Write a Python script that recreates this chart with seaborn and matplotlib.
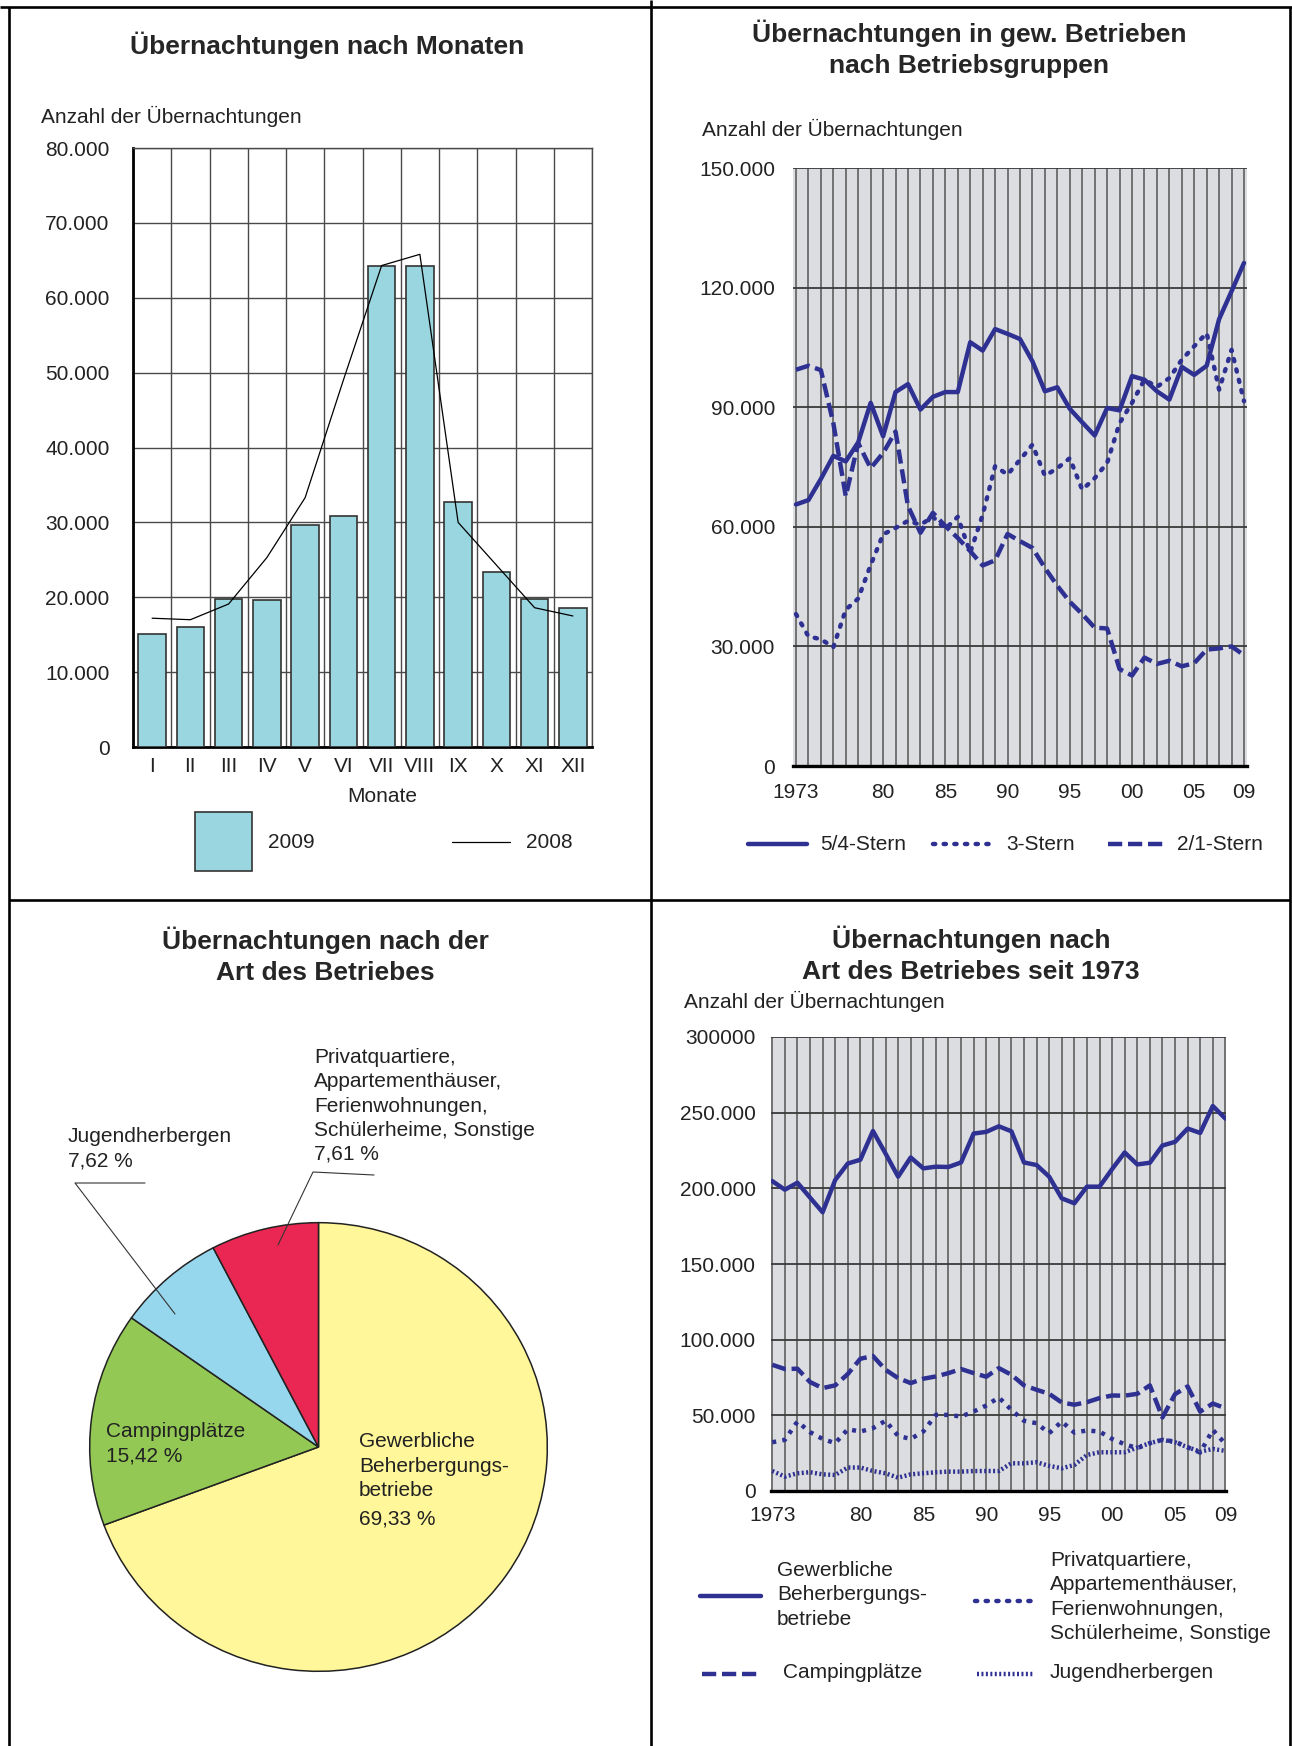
import numpy as np
import pandas as pd
import matplotlib
matplotlib.use("Agg")
import matplotlib.pyplot as plt
from matplotlib.patches import Rectangle
import seaborn as sns

# --- data ---
months = ["I", "II", "III", "IV", "V", "VI", "VII", "VIII", "IX", "X", "XI", "XII"]
nights_2009 = [15100, 16000, 19800, 19600, 29700, 30900, 64200, 64200, 32700, 23400, 19800, 18500]
nights_2008 = [17200, 17000, 19100, 25300, 33300, 49000, 64300, 65800, 30000, 24300, 18600, 17500]
month_yticks = [0, 10000, 20000, 30000, 40000, 50000, 60000, 70000, 80000]
month_ylabels = ["0", "10.000", "20.000", "30.000", "40.000", "50.000", "60.000", "70.000", "80.000"]

years = list(range(1973, 2010))
stern_54 = [65600, 66700, 72000, 77800, 76400, 81200, 91100, 82700, 93800, 95800, 89400, 92600,
            93800, 93800, 106300, 104200, 109600, 108400, 107100, 101500, 94000, 95000, 89600,
            86200, 82900, 89800, 89200, 97800, 96900, 94000, 91900, 100100, 98100, 100400,
            112100, 119100, 126200]
stern_3 = [38100, 32500, 31800, 29800, 39200, 42000, 50400, 58100, 59700, 61500, 60500, 62500,
           59500, 62500, 53500, 63000, 75200, 73100, 76800, 80600, 72800, 74700, 77200, 69300,
           72200, 76000, 86000, 91100, 96900, 95100, 97300, 101900, 105300, 108600, 94400,
           104400, 91500]
stern_21 = [99400, 100400, 99300, 86000, 67700, 81000, 74700, 78500, 83900, 65200, 58500, 63500,
            60200, 57200, 53900, 50300, 51600, 58200, 56400, 54700, 49700, 45200, 41200, 38100,
            34700, 34500, 24300, 22700, 27200, 25600, 26400, 25000, 25800, 29200, 29500, 30000,
            27800]
stern_yticks = [0, 30000, 60000, 90000, 120000, 150000]
stern_ylabels = ["0", "30.000", "60.000", "90.000", "120.000", "150.000"]

year_ticks = [1973, 1980, 1985, 1990, 1995, 2000, 2005, 2009]
year_labels = ["1973", "80", "85", "90", "95", "00", "05", "09"]

gewerblich = [204800, 199100, 203700, 193900, 184200, 205500, 216400, 218900, 237900, 223000,
              207700, 220400, 213200, 214300, 214100, 217100, 236200, 237300, 241000, 237700,
              217100, 215400, 207700, 193400, 190100, 201100, 201100, 212700, 223700, 215800,
              216900, 228300, 230700, 239500, 236600, 254400, 246100]
camping = [83400, 80600, 80800, 72000, 68000, 69800, 77300, 87400, 89200, 80100, 74600, 71300,
           74200, 75700, 77900, 80600, 77900, 75500, 81200, 76800, 69800, 66900, 64200, 58500,
           57000, 58700, 61400, 63100, 63000, 64200, 69800, 48600, 64000, 69100, 52500, 57800,
           54700]
privat = [32200, 33800, 45900, 38900, 34400, 31600, 40800, 39300, 41500, 46400, 36400, 34400,
          39300, 50300, 50300, 49200, 52500, 56500, 61800, 53600, 46400, 44800, 38200, 45900,
          38600, 40000, 39300, 34400, 30900, 28300, 31600, 33800, 32700, 28900, 25400, 40400,
          31100]
jugend = [13200, 9500, 11700, 12400, 11000, 10600, 15500, 15500, 13200, 11700, 8800, 11000,
          11700, 12400, 12800, 12800, 13200, 13200, 13200, 18300, 18300, 19000, 16600, 15000,
          17200, 23800, 25600, 25600, 25600, 28700, 31600, 33800, 32200, 28900, 26000, 27800,
          26500]
art_yticks = [0, 50000, 100000, 150000, 200000, 250000, 300000]
art_ylabels = ["0", "50.000", "100.000", "150.000", "200.000", "250.000", "300000"]

pie_names = ["Gewerbliche Beherbergungsbetriebe", "Campingplätze", "Jugendherbergen",
             "Privatquartiere, Appartementhäuser, Ferienwohnungen, Schülerheime, Sonstige"]
pie_shares = [69.33, 15.42, 7.62, 7.61]
pie_colors = ["#FFF799", "#93C855", "#97D7EE", "#EA2752"]

# --- style ---
W, H = 1292, 1746
sns.set_style("white")
plt.rcParams["font.family"] = ["Liberation Sans", "DejaVu Sans"]
plt.rcParams["font.size"] = 15
NAVY = "#2E3192"
BG = "#DCDDE0"
BAR = "#99D6E0"
TXT = "#222222"
FS = 15
TFS = 19
LW = 3.2

DOT = (0, (0.5, 1.9))
DASH = (0, (3.2, 1.3))
PDOT = (0, (0.9, 1.4))
JDOT = (0, (0.45, 0.55))


def pct(v):
    return f"{v:.2f} %".replace(".", ",")


fig = plt.figure(figsize=(W / 100, H / 100), dpi=100)


def box(x0, y0, x1, y1):
    return fig.add_axes([x0 / W, 1 - y1 / H, (x1 - x0) / W, (y1 - y0) / H])


# ---------- top left: bars per month ----------
ax1 = box(133, 148, 592, 747)
df_m = pd.DataFrame({"Monat": months, "2009": nights_2009})
sns.barplot(data=df_m, x="Monat", y="2009", color=BAR, saturation=1, width=0.72,
            edgecolor="#333333", linewidth=1.2, ax=ax1, zorder=3)
sns.lineplot(x=np.arange(len(months)), y=nights_2008, color="black", linewidth=0.9,
             sort=False, ax=ax1, zorder=4)
ax1.set_xlim(-0.5, 11.5)
ax1.set_ylim(0, 80000)
ax1.set_yticks(month_yticks)
ax1.set_yticklabels(month_ylabels)
ax1.set_xticks(np.arange(-0.5, 12), minor=True)
ax1.set_axisbelow(True)
ax1.xaxis.grid(True, which="minor", color="#4a4a4a", lw=1.0)
ax1.yaxis.grid(True, which="major", color="#4a4a4a", lw=1.0)
ax1.tick_params(axis="both", which="both", length=0, labelsize=FS, labelcolor=TXT)
ax1.tick_params(axis="y", pad=17)
ax1.tick_params(axis="x", pad=7)
ax1.set_xlabel("")
ax1.set_ylabel("")
for s in ["left", "bottom"]:
    ax1.spines[s].set_color("black")
    ax1.spines[s].set_linewidth(2)
for s in ["top", "right"]:
    ax1.spines[s].set_color("#4a4a4a")
    ax1.spines[s].set_linewidth(1.0)


def year_axes(ax, yticks, ylabels, ymax, xlo, xhi, ypad, xpad):
    ax.set_facecolor(BG)
    ax.set_xlim(xlo, xhi)
    ax.set_ylim(0, ymax)
    ax.set_yticks(yticks)
    ax.set_yticklabels(ylabels)
    ax.set_xticks(year_ticks)
    ax.set_xticklabels(year_labels)
    ax.set_xticks(years, minor=True)
    ax.set_axisbelow(True)
    ax.xaxis.grid(True, which="both", color="#555555", lw=1.1)
    ax.yaxis.grid(True, which="major", color="#3a3a3a", lw=1.3)
    ax.tick_params(axis="x", which="both", length=0, labelsize=FS, pad=xpad, labelcolor=TXT)
    ax.tick_params(axis="y", which="major", length=5, width=1.3, color="#3a3a3a",
                   direction="out", labelsize=FS, pad=ypad, labelcolor=TXT)
    ax.set_xlabel("")
    ax.set_ylabel("")
    for s in ["left", "top", "right"]:
        ax.spines[s].set_visible(False)
    ax.spines["bottom"].set_color("black")
    ax.spines["bottom"].set_linewidth(2.4)


# ---------- top right: by star category ----------
ax2 = box(793, 168, 1247, 766)
df_s = pd.DataFrame({"Jahr": years, "5/4-Stern": stern_54, "3-Stern": stern_3,
                     "2/1-Stern": stern_21})
sns.lineplot(data=df_s, x="Jahr", y="5/4-Stern", color=NAVY, lw=LW, ax=ax2)
sns.lineplot(data=df_s, x="Jahr", y="3-Stern", color=NAVY, lw=LW, ls=DOT,
             dash_capstyle="round", ax=ax2)
sns.lineplot(data=df_s, x="Jahr", y="2/1-Stern", color=NAVY, lw=LW, ls=DASH, ax=ax2)
year_axes(ax2, stern_yticks, stern_ylabels, 150000, 1972.76, 2009.24, 8, 12)

# ---------- bottom left: pie ----------
ax3 = box(89, 1222, 548, 1672)
ax3.pie(pie_shares, colors=pie_colors, startangle=90, counterclock=False,
        wedgeprops=dict(edgecolor="#222222", linewidth=1.1))
ax3.set_aspect("auto")
ax3.set_xlim(-1.003, 1.003)
ax3.set_ylim(-1.003, 1.003)

# ---------- bottom right: by type since 1973 ----------
ax4 = box(771, 1037, 1226, 1491)
df_a = pd.DataFrame({"Jahr": years, "Gewerbliche": gewerblich, "Camping": camping,
                     "Privat": privat, "Jugend": jugend})
sns.lineplot(data=df_a, x="Jahr", y="Gewerbliche", color=NAVY, lw=LW, ax=ax4)
sns.lineplot(data=df_a, x="Jahr", y="Camping", color=NAVY, lw=LW, ls=DASH, ax=ax4)
sns.lineplot(data=df_a, x="Jahr", y="Privat", color=NAVY, lw=LW, ls=PDOT, ax=ax4)
sns.lineplot(data=df_a, x="Jahr", y="Jugend", color=NAVY, lw=LW, ls=JDOT, ax=ax4)
year_axes(ax4, art_yticks, art_ylabels, 300000, 1972.9, 2009.05, 6, 11)

# ---------- overlay: frame, titles, labels, legends ----------
ov = fig.add_axes([0, 0, 1, 1], zorder=10)
ov.set_xlim(0, W)
ov.set_ylim(H, 0)
ov.axis("off")
for xs, ys in [([9, 9], [7, H]), ([1290, 1290], [7, H]), ([0, W], [7, 7]),
               ([651, 651], [0, H]), ([9, 1290], [900, 900])]:
    ov.plot(xs, ys, color="black", lw=1.9, solid_capstyle="butt")

# top left
ov.text(327, 45, "Übernachtungen nach Monaten", fontsize=TFS, fontweight="bold",
        ha="center", va="center")
ov.text(41, 116, "Anzahl der Übernachtungen", fontsize=FS, ha="left", va="center", color=TXT)
ov.text(382, 796, "Monate", fontsize=FS, ha="center", va="center", color=TXT)
ov.add_patch(Rectangle((195, 812), 57, 59, facecolor=BAR, edgecolor="#333333", lw=1.2))
ov.text(268, 842, "2009", fontsize=FS, ha="left", va="center", color=TXT)
ov.plot([452, 510], [842, 842], color="black", lw=0.9)
ov.text(526, 842, "2008", fontsize=FS, ha="left", va="center", color=TXT)

# top right
ov.text(969, 49, "Übernachtungen in gew. Betrieben\nnach Betriebsgruppen", fontsize=TFS,
        fontweight="bold", ha="center", va="center", linespacing=1.35)
ov.text(702, 129, "Anzahl der Übernachtungen", fontsize=FS, ha="left", va="center", color=TXT)
for x0, x1, ls, cap, name, tx in [(748, 807, "-", "butt", "5/4-Stern", 820),
                                  (933, 993, DOT, "round", "3-Stern", 1006),
                                  (1108, 1166, DASH, "butt", "2/1-Stern", 1177)]:
    ov.plot([x0, x1], [844, 844], color=NAVY, lw=LW, ls=ls, dash_capstyle=cap)
    ov.text(tx, 844, name, fontsize=FS, ha="left", va="center", color=TXT)

# bottom left
ov.text(325, 956, "Übernachtungen nach der\nArt des Betriebes", fontsize=TFS,
        fontweight="bold", ha="center", va="center", linespacing=1.35)
ov.text(314, 1106, "Privatquartiere,\nAppartementhäuser,\nFerienwohnungen,\nSchülerheime, Sonstige\n"
        + pct(pie_shares[3]), fontsize=FS, ha="left", va="center", linespacing=1.35, color=TXT)
ov.text(68, 1149, "Jugendherbergen\n" + pct(pie_shares[2]),
        fontsize=FS, ha="left", va="center", linespacing=1.35, color=TXT)
ov.text(106, 1444, "Campingplätze\n" + pct(pie_shares[1]),
        fontsize=FS, ha="left", va="center", linespacing=1.35, color=TXT)
ov.text(359, 1466, "Gewerbliche\nBeherbergungs-\nbetriebe", fontsize=FS, ha="left",
        va="center", linespacing=1.35, color=TXT)
ov.text(359, 1519, pct(pie_shares[0]), fontsize=FS, ha="left", va="center", color=TXT)
ov.plot([374, 313, 278], [1175, 1172, 1245], color="#333333", lw=0.8)
ov.plot([145, 75, 175], [1183, 1183, 1314], color="#333333", lw=0.8)

# bottom right
ov.text(971, 955, "Übernachtungen nach\nArt des Betriebes seit 1973", fontsize=TFS,
        fontweight="bold", ha="center", va="center", linespacing=1.35)
ov.text(684, 1001, "Anzahl der Übernachtungen", fontsize=FS, ha="left", va="center", color=TXT)
ov.plot([700, 761], [1596, 1596], color=NAVY, lw=LW)
ov.text(777, 1595, "Gewerbliche\nBeherbergungs-\nbetriebe", fontsize=FS, ha="left",
        va="center", linespacing=1.35, color=TXT)
ov.plot([975, 1036], [1601, 1601], color=NAVY, lw=LW, ls=DOT, dash_capstyle="round")
ov.text(1050, 1597, "Privatquartiere,\nAppartementhäuser,\nFerienwohnungen,\nSchülerheime, Sonstige",
        fontsize=FS, ha="left", va="center", linespacing=1.35, color=TXT)
ov.plot([702, 761], [1674, 1674], color=NAVY, lw=LW, ls=DASH)
ov.text(783, 1672, "Campingplätze", fontsize=FS, ha="left", va="center", color=TXT)
ov.plot([977, 1034], [1674, 1674], color=NAVY, lw=LW, ls=JDOT)
ov.text(1050, 1672, "Jugendherbergen", fontsize=FS, ha="left", va="center", color=TXT)

fig.savefig("out.png", dpi=100)
